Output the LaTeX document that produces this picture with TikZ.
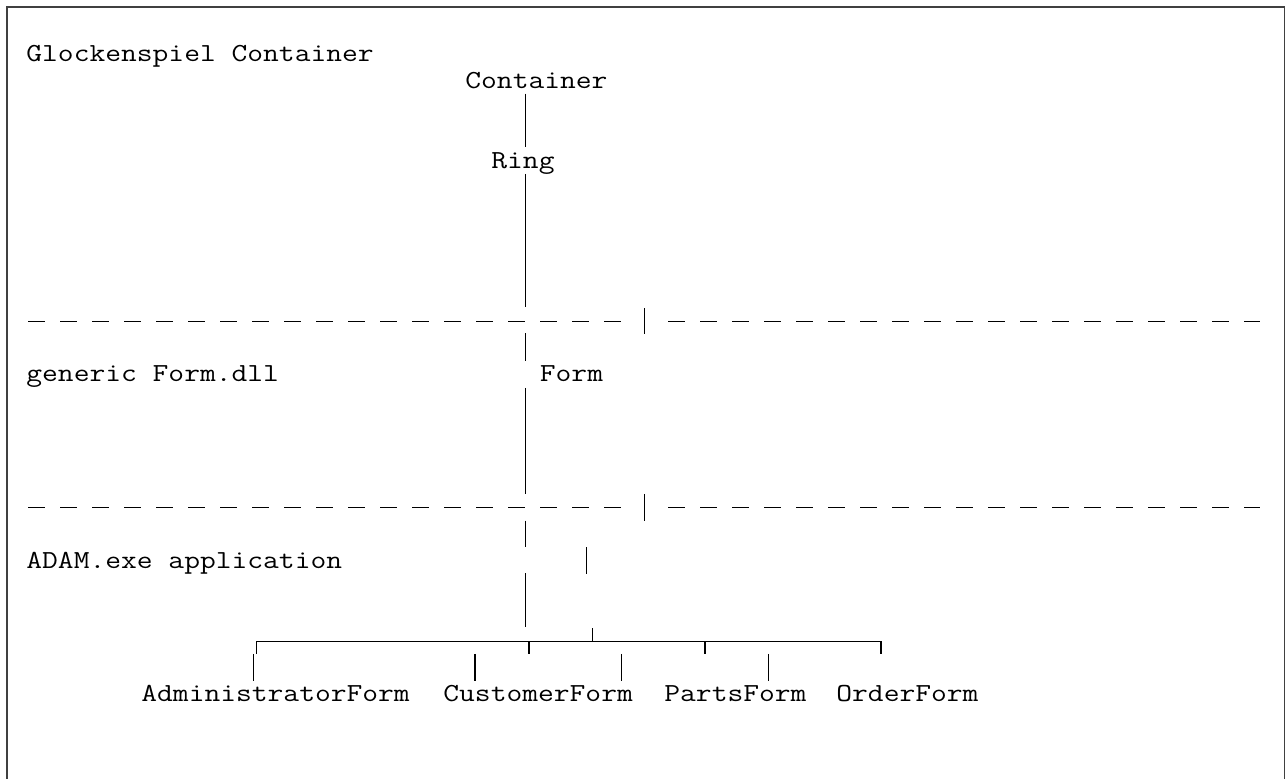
\documentclass[tikz,border=0pt]{standalone}
\usepackage{fontspec}
\begin{document}
% typewriter text, widened to a Courier-like cell of about 8pt
\newcommand{\cell}[1]{\scalebox{1.179}[1]{#1}}
\begin{tikzpicture}[x=0.5pt,y=-0.5pt,
  lbl/.style={inner sep=0pt, anchor=base west,
    font=\ttfamily\fontsize{13}{13}\selectfont},
  wire/.style={line width=0.75pt, black},
  sepline/.style={line width=0.7pt, black, dash pattern=on 8.35pt off 7.65pt},
  frameline/.style={line width=0.6pt, black!75}]
\useasboundingbox (0,0) rectangle (1286,779);

% outer frame (open at the bottom edge)
\draw[frameline] (7,779) -- (7,7) -- (1284.5,7) -- (1284.5,779);

% labels
\node[lbl] (title)     at (26,61.7)     {\cell{Glockenspiel Container}};
\node[lbl] (container) at (465,88.3)    {\cell{Container}};
\node[lbl] (ring)      at (491,169)     {\cell{Ring}};
\node[lbl] (dll)       at (26,381.5)    {\cell{generic Form.dll}};
\node[lbl] (form)      at (539.5,381.5) {\cell{Form}};
\node[lbl] (app)       at (26,568.3)    {\cell{ADAM.exe application}};
\node[lbl] (admin)     at (141,701.7)   {\cell{AdministratorForm}};
\node[lbl] (customer)  at (443,701.7)   {\cell{CustomerForm}};
\node[lbl] (parts)     at (664,701.7)   {\cell{PartsForm}};
\node[lbl] (order)     at (836,701.7)   {\cell{OrderForm}};

% layer separators
\foreach \yy in {321.3,507.3}{
  \draw[sepline] (28.3,\yy) -- (620.7,\yy);
  \draw[sepline] (668.3,\yy) -- (1260.3,\yy);
}
\coordinate (barA1) at (644.3,308.3);
\coordinate (barA2) at (644.3,334);
\coordinate (barB1) at (644.3,494);
\coordinate (barB2) at (644.3,520.7);
\draw[wire] (barA1) -- (barA2);
\draw[wire] (barB1) -- (barB2);

% main trunk
\draw[wire] (525.3,93.7)  -- (525.3,147.3);
\draw[wire] (525.3,174)   -- (525.3,307.3);
\draw[wire] (525.3,333.3) -- (525.3,360.7);
\draw[wire] (525.3,388)   -- (525.3,494);
\draw[wire] (525.3,520.7) -- (525.3,547.3);
\draw[wire] (525.3,573.3) -- (525.3,627.3);

% short bar beside the application label
\draw[wire] (586.7,547.3) -- (586.7,574);

% distribution bus
\coordinate (busL) at (256.7,641.7);
\coordinate (busR) at (881,641.7);
\draw[wire] (256.7,654) -- (busL) -- (busR) -- (881,654);
\draw[wire] (592.7,628.3) -- (592.7,641.7);
\draw[wire] (528.8,641.7) -- (528.8,654);
\draw[wire] (705,641.7)   -- (705,654);

% drops to the forms
\foreach \xx in {253.3,475,621.7,768.7}{
  \draw[wire] (\xx,654) -- (\xx,680.7);
}
\end{tikzpicture}
\end{document}
